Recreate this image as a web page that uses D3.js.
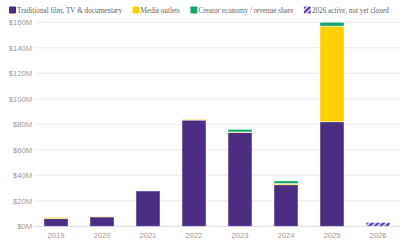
<!DOCTYPE html>
<html><head><meta charset="utf-8">
<script src="https://cdn.jsdelivr.net/npm/d3@7"></script>
<style>html,body{margin:0;padding:0;background:#fff;}svg{display:block;}</style>
</head><body>
<svg id="c" width="414" height="246"></svg>
<script>
const years = ["2019","2020","2021","2022","2023","2024","2025","2026"];
const traditional = [6, 7.4, 27.7, 83.3, 73.5, 32.6, 82, 0];
const media = [1, 0.4, 0, 0.6, 0.5, 1, 75, 0];
const creator = [0, 0, 0, 0, 2, 2, 3, 0];
const active2026 = [0, 0, 0, 0, 0, 0, 0, 3];
const yTicks = [0, 20, 40, 60, 80, 100, 120, 140, 160];
const seriesNames = ["Traditional film, TV & documentary", "Media outlets", "Creator economy / revenue share", "2026 active, not yet closed"];
const colors = ["#4b2d82", "#ffd000", "#13a56e", "url(#hatch)"];

const svg = d3.select("#c");
const defs = svg.append("defs");
const pat = defs.append("pattern").attr("id","hatch").attr("patternUnits","userSpaceOnUse")
  .attr("width",4).attr("height",4).attr("patternTransform","rotate(45)");
pat.append("rect").attr("width",4).attr("height",4).attr("fill","#d9d0ef");
pat.append("rect").attr("width",2.2).attr("height",4).attr("fill","#5b3fa0");

const x = d3.scaleBand().domain(years).range([33,401]).paddingInner(0.478).paddingOuter(0.239);
const y = d3.scaleLinear().domain([0,160]).range([226.3,22.3]);

// grid
svg.append("g").selectAll("line").data(yTicks).join("line")
  .attr("x1",35).attr("x2",400).attr("y1",d=>y(d)).attr("y2",d=>y(d))
  .attr("stroke",d=>d===0?"#dcdce6":"#ececf4").attr("stroke-width",1);

// y axis labels
const yAxis = d3.axisLeft(y).tickValues(yTicks).tickSize(0).tickPadding(0).tickFormat(d=>"$"+d+"M");
const gy = svg.append("g").attr("transform","translate(32,0)").call(yAxis);
gy.select(".domain").remove();
gy.selectAll("text").attr("fill","#9a9a9a").style("font-family","Liberation Sans, Arial, sans-serif").style("font-size","7.6px");

// x axis labels
const xAxis = d3.axisBottom(x).tickSize(0).tickPadding(0);
const gx = svg.append("g").attr("transform","translate(0,233)").call(xAxis);
gx.select(".domain").remove();
gx.selectAll("text").attr("fill","#9a9a9a").style("font-family","Liberation Sans, Arial, sans-serif").style("font-size","7.6px");

// stacked bars
const rows = years.map((yr,i)=>({year:yr, s0:traditional[i], s1:media[i], s2:creator[i], s3:active2026[i]}));
const stack = d3.stack().keys(["s0","s1","s2","s3"])(rows);
svg.append("g").selectAll("g").data(stack).join("g")
  .attr("fill",(d,i)=>colors[i])
  .selectAll("rect").data(d=>d.filter(p=>p[1]-p[0]>0)).join("rect")
  .attr("x",d=>x(d.data.year)).attr("width",x.bandwidth())
  .attr("y",d=>y(d[1])).attr("height",d=>y(d[0])-y(d[1]))
  .attr("stroke","rgba(255,255,255,0.55)").attr("stroke-width",0.8);

// legend
const lg = svg.append("g").attr("transform","translate(0,10)");
let lx = 9;
seriesNames.forEach((name,i)=>{
  lg.append("rect").attr("x",lx).attr("y",-3.5).attr("width",7).attr("height",7).attr("rx",0.8).attr("fill",colors[i]);
  const t = lg.append("text").attr("x",lx+8).attr("y",2.6).text(name)
    .attr("fill","#666").style("font-family","Liberation Serif, Times New Roman, serif").style("font-size","7.2px");
  lx = lx + 8 + t.node().getComputedTextLength() + 10.5;
});
</script>
</body></html>
